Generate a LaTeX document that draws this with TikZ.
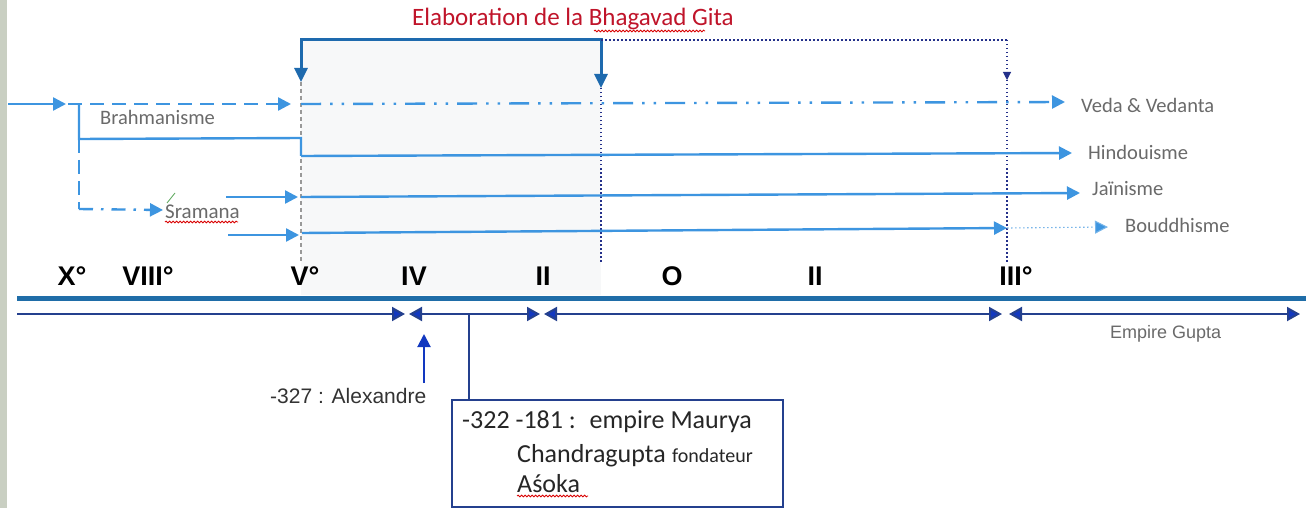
\documentclass[tikz,border=0pt]{standalone}
\usepackage{fontspec}
\setmainfont{Carlito}
\newfontfamily\arial{Liberation Sans}
\usetikzlibrary{arrows.meta,decorations.pathmorphing}
\definecolor{lb}{HTML}{3D95E0}
\definecolor{brk}{HTML}{1E6AAE}
\definecolor{navy}{HTML}{24308A}
\definecolor{tl}{HTML}{1F6DA8}
\definecolor{tlthin}{HTML}{24408E}
\definecolor{tiphead}{HTML}{1238C0}
\definecolor{titlered}{HTML}{C0142A}
\definecolor{graytext}{HTML}{6A6A6A}
\definecolor{shadebg}{HTML}{F7F8F9}
\definecolor{strip}{HTML}{C9CFC2}
\begin{document}
\begin{tikzpicture}[x=1pt,y=-1pt,
  lbline/.style={draw=lb,line width=2.4pt},
  lbtip/.style={-{Triangle[length=13pt,width=13pt,fill=lb]}},
  brkline/.style={draw=brk,line width=3pt,{Triangle[length=14pt,width=13pt]}-{Triangle[length=14pt,width=13pt]}},
  navydot/.style={draw=navy,line width=1.1pt,dash pattern=on 1.5pt off 2.5pt},
  graydash/.style={draw=gray!80,line width=1.1pt,dash pattern=on 4pt off 3pt},
  tlthick/.style={draw=tl,line width=5pt},
  tlarrow/.style={draw=tlthin,line width=2pt},
  tlboth/.style={tlarrow,{Triangle[length=13pt,width=14pt,fill=tiphead]}-{Triangle[length=13pt,width=14pt,fill=tiphead]}},
  tlright/.style={tlarrow,-{Triangle[length=13pt,width=14pt,fill=tiphead]}},
  rowlab/.style={anchor=base west,inner sep=0pt,text=graytext,font=\fontsize{20.5}{24}\selectfont},
  eralab/.style={anchor=center,inner sep=0pt,font=\arial\bfseries\fontsize{27}{30}\selectfont},
  boxtext/.style={anchor=base west,inner sep=0pt,text=black!85,font=\fontsize{26}{30}\selectfont},
  spell/.style={draw=red!85!black,line width=0.8pt,decorate,decoration={snake,amplitude=0.9pt,segment length=3.5pt}}
]
\useasboundingbox (0,0) rectangle (1312,508);
\fill[white] (0,0) rectangle (1312,508);
\fill[strip] (0,0) rectangle (7,508);
\fill[shadebg] (301,40) rectangle (601,295);

% title
\node[anchor=base west,inner sep=0pt,text=titlered,font=\fontsize{25}{29}\selectfont] (title) at (412,26) {Elaboration de la Bhagavad Gita};
\draw[spell] (594,31) -- (705,31);

% bracket
\coordinate (bL) at (301,40);
\coordinate (bR) at (601,40);
\coordinate (bRR) at (1007,40);
\coordinate (bLt) at (301,82);
\coordinate (bRt) at (601,88);
\coordinate (bRRt) at (1007,80);
\draw[brkline] (bLt) -- (bL) -- (bR) -- (bRt);
\draw[navydot] (bR) -- (bRR);
\draw[navydot,-{Triangle[length=8pt,width=8pt,fill=navy]}] (bRR) -- (bRRt);
\draw[navydot] (bRRt) -- (1007,262);
\draw[graydash] (bLt) -- (301,262);
\draw[navydot] (bRt) -- (601,262);

% labels
\node[rowlab] (veda) at (1081,113) {Veda \& Vedanta};
\node[rowlab] (hindou) at (1088,160) {Hindouisme};
\node[rowlab] (jain) at (1092,195) {Jaïnisme};
\node[rowlab] (boud) at (1125,232) {Bouddhisme};
\node[rowlab,font=\fontsize{20.5}{24}\selectfont] (brah) at (100,125) {Brahmanisme};
\node[rowlab,font=\fontsize{21}{24}\selectfont] (sram) at (165,218) {Sramana};
\draw[spell] (165,222) -- (238,222);
\draw[gray!70!green,line width=0.8pt] (167,203) -- (175,193);

% row 1: Veda
\coordinate (r1s) at (8,104);
\coordinate (r1a) at (66,104);
\coordinate (r1b) at (68,104);
\coordinate (r1j) at (79,104);
\coordinate (r1c) at (291,104);
\coordinate (r1d) at (301,104);
\coordinate (r1e) at (1065,102);
\draw[lbline,lbtip] (r1s) -- (r1a);
\draw[lbline,lbtip,dash pattern=on 14pt off 8pt] (r1b) -- (r1c);
\draw[lbline,lbtip,dash pattern=on 20pt off 9pt on 2.5pt off 9pt on 2.5pt off 9pt] (r1d) -- (r1e);

% row 2: Hindouisme
\coordinate (r2a) at (79,139);
\coordinate (r2b) at (301,138);
\coordinate (r2c) at (301,156);
\coordinate (r2d) at (1072,153);
\draw[lbline] (r1j) -- (r2a) -- (r2b) -- (r2c);
\draw[lbline,lbtip] (r2c) -- (r2d);

% Sramana branch
\coordinate (r3a) at (79,209);
\coordinate (r3b) at (163,210);
\draw[lbline,dash pattern=on 14pt off 7pt] (r2a) -- (r3a);
\draw[lbline,lbtip,dash pattern=on 14pt off 8pt on 2.5pt off 8pt] (r3a) -- (r3b);

% row 3: Jainisme
\coordinate (r4a) at (226,197);
\coordinate (r4b) at (298,197);
\coordinate (r4c) at (301,197);
\coordinate (r4d) at (1080,193);
\draw[lbline,lbtip] (r4a) -- (r4b);
\draw[lbline,lbtip] (r4c) -- (r4d);

% row 4: Bouddhisme
\coordinate (r5a) at (228,235);
\coordinate (r5b) at (299,235);
\coordinate (r5c) at (302,233);
\coordinate (r5d) at (1007,228);
\coordinate (r5e) at (1108,227);
\draw[lbline,lbtip] (r5a) -- (r5b);
\draw[lbline,lbtip] (r5c) -- (r5d);
\draw[draw=lb!70,line width=1.1pt,dash pattern=on 1.5pt off 2.5pt,-{Triangle[length=13pt,width=13pt,fill=lb]}] (r5d) -- (r5e);

% era labels
\node[eralab] (eX) at (72,276) {X°};
\node[eralab] (eVIII) at (148,276) {VIII°};
\node[eralab] (eV) at (305,276) {V°};
\node[eralab] (eIV) at (414,276) {IV};
\node[eralab] (eII) at (543,276) {II};
\node[eralab] (eO) at (672,276) {O};
\node[eralab] (eIIb) at (815,276) {II};
\node[eralab] (eIII) at (1016,276) {III°};

% timeline
\coordinate (t0) at (17,298);
\coordinate (t1) at (1306,298);
\draw[tlthick] (t0) -- (t1);
\coordinate (s0) at (17,314);
\coordinate (s1) at (405,314);
\coordinate (s2) at (409,314);
\coordinate (s3) at (540,314);
\coordinate (s4) at (544,314);
\coordinate (s5) at (1002,314);
\coordinate (s6) at (1009,314);
\coordinate (s7) at (1300,314);
\draw[tlright] (s0) -- (s1);
\draw[tlboth] (s2) -- (s3);
\draw[tlboth] (s4) -- (s5);
\draw[tlboth] (s6) -- (s7);
\node[anchor=base west,inner sep=0pt,text=graytext,font=\arial\fontsize{18}{22}\selectfont] (gupta) at (1110,338) {Empire Gupta};

% Alexandre
\node[anchor=base west,inner sep=0pt,text=black!80,font=\arial\fontsize{21}{25}\selectfont] (alex) at (270,403) {-327 : Alexandre};
\coordinate (alexup) at (424,334);
\draw[tlarrow,draw=tiphead,-{Triangle[length=13pt,width=13pt,fill=tiphead]}] (424,383) -- (alexup);

% Maurya box
\node[draw=tlthin,line width=1.5pt,anchor=north west,minimum width=331pt,minimum height=107pt,inner sep=0pt] (box) at (451,399) {};
\coordinate (mtop) at (469,314);
\draw[tlthin,line width=1.5pt] (mtop) -- (box.north west -| mtop);
\node[boxtext] (m1) at (462,428) {-322 -181 :~ empire Maurya};
\node[boxtext] (m2) at (517,462) {Chandragupta};
\node[boxtext,font=\fontsize{20}{24}\selectfont] (m2b) at (672,462) {fondateur};
\node[boxtext] (m3) at (517,492) {Aśoka};
\draw[spell] (517,496) -- (588,496);
\end{tikzpicture}
\end{document}
